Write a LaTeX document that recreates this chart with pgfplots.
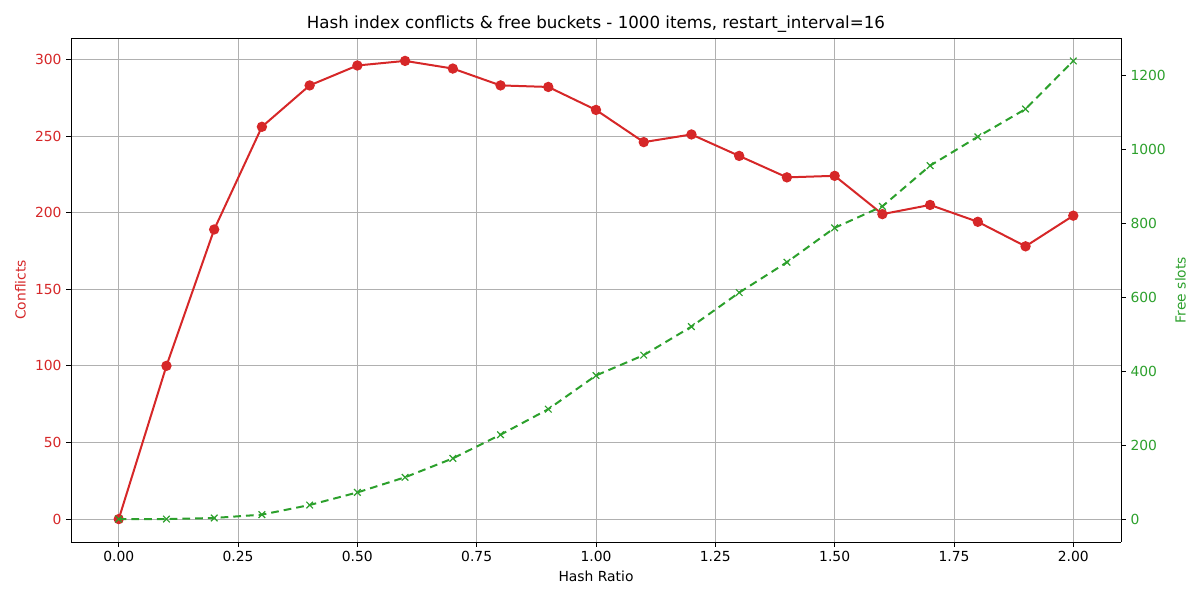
\documentclass[border=0pt]{standalone}
\usepackage{pgfplots}
\pgfplotsset{compat=1.18}
\usepackage{fontspec}
\setmainfont{DejaVu Sans}
\definecolor{mred}{HTML}{D62728}
\definecolor{mgreen}{HTML}{2CA02C}
\definecolor{mgrid}{HTML}{B0B0B0}

\pgfplotstableread{
x conf free
0.0 0 0
0.1 100 0
0.2 189 3
0.3 256 12
0.4 283 38
0.5 296 72
0.6 299 113
0.7 294 164
0.8 283 228
0.9 282 297
1.0 267 388
1.1 246 443
1.2 251 520
1.3 237 612
1.4 223 694
1.5 224 787
1.6 199 845
1.7 205 955
1.8 194 1033
1.9 178 1108
2.0 198 1238
}\datatable

\begin{document}
\begin{tikzpicture}
\pgfplotsset{
  every axis/.append style={
    scale only axis, width=787.5pt, height=378pt,
    xmin=-0.1, xmax=2.1,
    font=\fontsize{10.4}{12}\selectfont,
    /pgf/number format/assume math mode=true,
    /pgf/number format/set thousands separator={},
    tick style={black, line width=0.6pt},
    major tick length=3.6pt,
    tick align=outside,
    axis line style={line width=0.6pt},
  },
}
\begin{axis}[
  axis y line*=left,
  xtick pos=lower,
  ymin=-14.95, ymax=313.95,
  ytick={0,50,...,300},
  xtick={0,0.25,...,2},
  xticklabel style={/pgf/number format/.cd, fixed, fixed zerofill, precision=2},
  yticklabel style={color=mred},
  grid=major,
  major grid style={mgrid, line width=0.6pt},
  xlabel={Hash Ratio},
  ylabel={Conflicts},
  ylabel style={color=mred},
  title={Hash index conflicts \& free buckets - 1000 items, restart\_interval=16},
  title style={font=\fontsize{12.5}{14}\selectfont, yshift=-5.5pt},
  clip=false,
]
\addplot[mred, line width=1.5pt, mark=*, mark size=3.1pt, mark options={solid, fill=mred, draw=mred}]
  table[x=x, y=conf] {\datatable};
\end{axis}
\begin{axis}[
  axis y line*=right,
  axis x line=none,
  ymin=-61.9, ymax=1299.9,
  ytick={0,200,...,1200},
  yticklabel style={color=mgreen},
  ylabel={Free slots},
  ylabel style={color=mgreen},
]
\addplot[mgreen, line width=1.5pt, dash pattern=on 5.8pt off 3.75pt, mark=x, mark size=3.5pt, mark options={solid, line width=0.9pt}]
  table[x=x, y=free] {\datatable};
\end{axis}
\path[use as bounding box] (-53.25pt,-43.5pt) rectangle (846.75pt,406.5pt);
\end{tikzpicture}
\end{document}
